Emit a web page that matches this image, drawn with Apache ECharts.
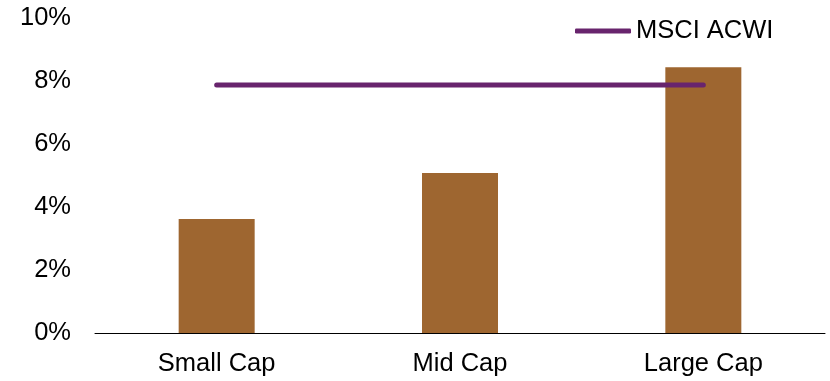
<!DOCTYPE html>
<html><head><meta charset="utf-8">
<script src="https://cdn.jsdelivr.net/npm/echarts@6/dist/echarts.min.js"></script>
<style>html,body{margin:0;padding:0;background:#fff}#c{width:830px;height:381px}</style>
</head><body><div id="c"></div>
<script>
const categories = ['Small Cap', 'Mid Cap', 'Large Cap'];
const barValues = [3.62, 5.08, 8.44];
const acwiValues = [7.87, 7.87, 7.87];
const yTicks = [0, 2, 4, 6, 8, 10];

const FONT = 'Liberation Sans, Arial, sans-serif';
const FS = 25.5;
const chart = echarts.init(document.getElementById('c'), null, {renderer: 'canvas'});
chart.setOption({
  animation: false,
  textStyle: {fontFamily: FONT},
  grid: {left: 95, right: 5, top: 18, bottom: 48, containLabel: false},
  legend: {
    data: [{name: 'MSCI ACWI'}],
    left: 570, top: 13,
    icon: 'roundRect', itemWidth: 56, itemHeight: 5, itemGap: 5,
    textStyle: {fontSize: FS, color: '#000', fontFamily: FONT}
  },
  xAxis: {
    type: 'category', data: categories,
    axisLine: {lineStyle: {color: '#000', width: 1}},
    axisTick: {show: false},
    axisLabel: {fontSize: FS, color: '#000', margin: 18}
  },
  yAxis: {
    type: 'value', min: yTicks[0], max: yTicks[yTicks.length-1], interval: 2,
    axisLine: {show: false}, axisTick: {show: false}, splitLine: {show: false},
    axisLabel: {fontSize: FS, color: '#000', margin: 24, formatter: v => v + '%'}
  },
  series: [
    {name: 'Bars', type: 'bar', data: barValues, barWidth: 76,
     itemStyle: {color: '#9E6630'}},
    {name: 'MSCI ACWI', type: 'line', data: acwiValues, symbol: 'none',
     lineStyle: {color: '#68246D', width: 5, cap: 'round'}, itemStyle: {color: '#68246D'}}
  ]
});
</script></body></html>
